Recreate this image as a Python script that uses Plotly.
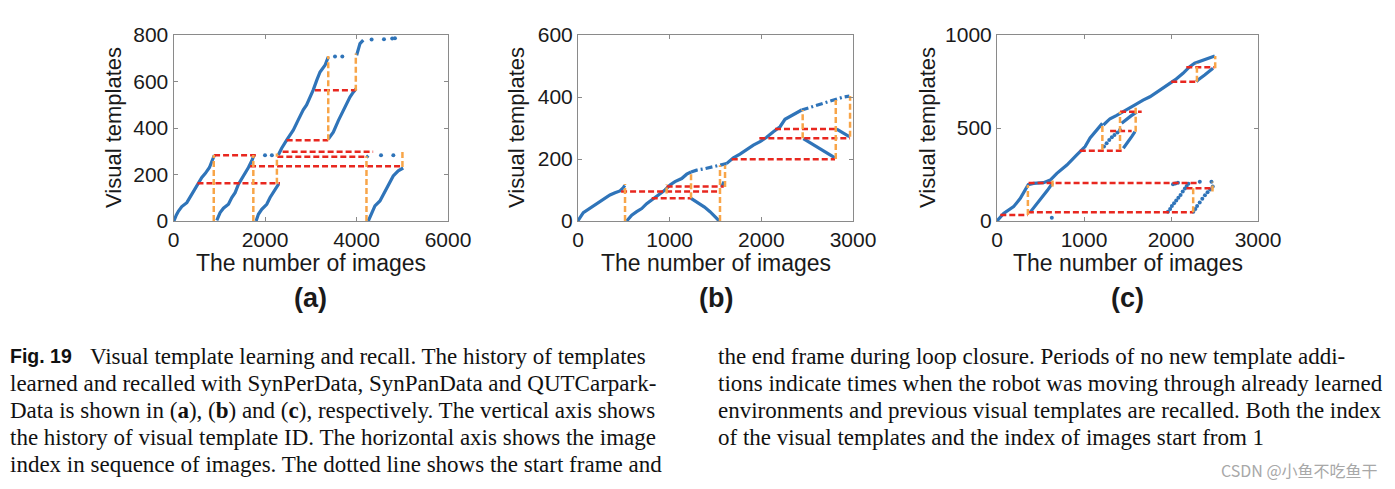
import plotly.graph_objects as go

# ---------------- panel (a) SynPerData ----------------
a_blue_x = [0, 15, 60, 109, 182, 291, 379, 451, 546, 619, 692, 786, 837, 895, None,
            946, 1019, 1092, 1201, 1274, 1347, 1420, 1492, 1565, 1638, 1711, 1760, None,
            1805, 1856, 1929, 2038, 2111, 2184, 2257, 2300, None,
            2291, 2364, 2473, 2618, 2727, 2836, 2909, 2982, 3055, 3130, 3203, 3312, 3384, None,
            3384, 3493, 3603, 3712, 3784, 3857, 3930, 3990, None,
            4003, 4039, 4076, 4148, None,
            4221, 4258, None,
            4258, 4330, 4403, 4512, 4585, 4658, 4730, 4803, 4912, 5021]
a_blue_y = [0, 3, 25, 43, 62, 79, 108, 132, 158, 187, 204, 230, 256, 283, None,
            3, 36, 55, 72, 101, 122, 158, 180, 202, 230, 259, 283, None,
            0, 29, 50, 72, 101, 122, 147, 160, None,
            284, 313, 348, 391, 435, 478, 499, 528, 564, 605, 641, 670, 706, None,
            353, 382, 432, 475, 497, 533, 554, 569, None,
            713, 742, 763, 778, None,
            274, 281, None,
            0, 36, 65, 86, 115, 144, 166, 194, 216, 228]
a_dot_x = [2000, 2150, 3530, 3690, 4330, 4600, 4780, 4840, 4536, 4805]
a_dot_y = [283, 283, 707, 707, 781, 782, 785, 786, 283, 283]
a_red_y = [283, 162, 235, 276, 298, 347, 562]
a_red_x0 = [887, 524, 1673, 2269, 2385, 2473, 3091]
a_red_x1 = [1800, 2327, 5018, 4218, 4364, 3382, 3978]
a_org_x = [880, 1745, 2260, 3382, 3985, 4218, 5004]
a_org_y0 = [0, 0, 160, 347, 560, 0, 232]
a_org_y1 = [284, 284, 290, 710, 720, 278, 302]

# ---------------- panel (b) SynPanData ----------------
b_blue_x = [0, 4, 58, 113, 167, 222, 295, 349, 404, 458, 495, 510, None,
            531, 586, 640, 695, 749, 804, 877, 949, 1004, 1058, 1131, 1186, 1233, None,
            1233, 1300, 1380, 1440, 1495, 1541, None,
            1567, 1593, None,
            1620, 1640, 1695, 1767, 1840, 1913, 1986, 2058, 2131, 2204, 2258, 2331, 2440, None,
            2458, 2550, 2650, 2740, 2804, None,
            2822, 2890, 2960]
b_blue_y = [0, 3, 27, 38, 46, 59, 73, 84, 91, 97, 108, 115, None,
            0, 19, 30, 40, 56, 67, 84, 100, 116, 127, 137, 151, 158, None,
            73, 60, 45, 30, 14, 0, None,
            110, 127, None,
            185, 191, 204, 216, 231, 245, 256, 270, 288, 304, 328, 339, 358, None,
            266, 250, 232, 215, 204, None,
            296, 285, 272]
b_dash_x = [1233, 1295, 1386, 1495, 1560, 1620, None, 2440, 2531, 2640, 2731, 2822, 2895, 2960]
b_dash_y = [158, 164, 169, 177, 180, 185, None, 358, 366, 377, 384, 392, 400, 403]
b_red_y = [297, 267, 199, 111, 95, 73]
b_red_x0 = [2149, 1978, 1677, 967, 470, 804]
b_red_x1 = [2822, 2968, 2804, 1590, 1549, 1233]
b_org_x = [513, 967, 1233, 1549, 1604, 2451, 2812, 2968]
b_org_y0 = [0, 89, 73, 0, 110, 267, 200, 272]
b_org_y1 = [119, 119, 158, 180, 180, 358, 390, 403]

# ---------------- panel (c) QUTCarparkData ----------------
c_blue_x = [0, 76, 191, 268, 359, 420, 535, 612, 688, 803, 917, 1013, 1070, 1130, 1211, None,
            1223, 1299, 1376, 1414, 1500, 1586, 1679, 1758, 1830, 1908, 1988, 2050, 2138, 2215,
            2272, 2368, 2483, 2503, None,
            378, 430, 480, 530, 580, 640, None,
            1433, 1480, 1540, 1605, None,
            1452, 1500, 1550, 1586, None,
            2291, 2310, 2387, 2483]
c_blue_y = [0, 41, 77, 122, 195, 202, 206, 220, 256, 301, 355, 400, 446, 480, 525, None,
            516, 550, 568, 579, 600, 624, 650, 668, 690, 715, 743, 760, 794, 830,
            848, 866, 884, 887, None,
            45, 75, 105, 135, 165, 205, None,
            525, 545, 565, 585, None,
            391, 420, 455, 480, None,
            749, 758, 785, 821]
c_dot_x = [1230, 1260, 1290, 1320, 1350, 1385, 1414,
           1965, 1990, 2010, 2035, 2060, 2085, 2110, 2135, 2160, 2180, 2200, 2023, 2050, 2080,
           2257, 2280, 2300, 2330, 2360, 2390, 2420, 2450, 2480, 2331, 2465, 630]
c_dot_y = [400, 418, 436, 450, 462, 476, 489,
           50, 65, 80, 95, 110, 125, 140, 158, 175, 188, 200, 197, 201, 205,
           50, 65, 80, 100, 120, 138, 155, 170, 185, 211, 211, 18]
c_red_y = [32, 47, 204, 176, 378, 484, 588, 749, 826]
c_red_x0 = [38, 355, 363, 2178, 952, 1300, 1414, 2003, 2176]
c_red_x1 = [355, 2255, 2331, 2484, 1433, 1548, 1663, 2290, 2500]
c_org_x = [355, 638, 1211, 1414, 1594, 2255, 2477, 2298, 2508]
c_org_y0 = [32, 185, 382, 382, 480, 47, 158, 749, 821]
c_org_y1 = [194, 230, 525, 588, 615, 185, 211, 848, 887]

# axis ticks / ranges
a_xticks = [0, 2000, 4000, 6000]
a_yticks = [0, 200, 400, 600, 800]
b_xticks = [0, 1000, 2000, 3000]
b_yticks = [0, 200, 400, 600]
c_xticks = [0, 1000, 2000, 3000]
c_yticks = [0, 500, 1000]

BLUE = "#2f74b9"
RED = "#e8271f"
ORANGE = "#f8a548"
OFF = 8  # page body margin
W, H = 1395 - OFF, 489 - OFF


def segs_h(ys, x0s, x1s):
    xs, yy = [], []
    for y, a, b in zip(ys, x0s, x1s):
        xs += [a, b, None]
        yy += [y, y, None]
    return xs, yy


def segs_v(xs_, y0s, y1s):
    xs, yy = [], []
    for x, a, b in zip(xs_, y0s, y1s):
        xs += [x, x, None]
        yy += [a, b, None]
    return xs, yy


def px(x):
    return (x - OFF) / W


def py(y):
    return 1 - (y - OFF) / H


fig = go.Figure()


def add_panel(n, bx, by, dx, dy, rx, ry0, ry1, ox, oy0, oy1, ex=None, ey=None):
    xa, ya = ("x", "y") if n == 1 else ("x%d" % n, "y%d" % n)
    fig.add_trace(go.Scatter(x=bx, y=by, mode="lines", line=dict(color=BLUE, width=3.2),
                             xaxis=xa, yaxis=ya, showlegend=False))
    if ex is not None:
        fig.add_trace(go.Scatter(x=ex, y=ey, mode="lines",
                                 line=dict(color=BLUE, width=3.2, dash="7px,3px,2px,3px"),
                                 xaxis=xa, yaxis=ya, showlegend=False))
    if dx is not None:
        fig.add_trace(go.Scatter(x=dx, y=dy, mode="markers", marker=dict(color=BLUE, size=4),
                                 xaxis=xa, yaxis=ya, showlegend=False))
    hx, hy = segs_h(rx, ry0, ry1)
    fig.add_trace(go.Scatter(x=hx, y=hy, mode="lines", line=dict(color=RED, width=2.5, dash="6px,3px"),
                             xaxis=xa, yaxis=ya, showlegend=False))
    vx, vy = segs_v(ox, oy0, oy1)
    fig.add_trace(go.Scatter(x=vx, y=vy, mode="lines", line=dict(color=ORANGE, width=2.5, dash="6px,3px"),
                             xaxis=xa, yaxis=ya, showlegend=False))


add_panel(1, a_blue_x, a_blue_y, a_dot_x, a_dot_y, a_red_y, a_red_x0, a_red_x1, a_org_x, a_org_y0, a_org_y1)
add_panel(2, b_blue_x, b_blue_y, None, None, b_red_y, b_red_x0, b_red_x1, b_org_x, b_org_y0, b_org_y1,
          b_dash_x, b_dash_y)
add_panel(3, c_blue_x, c_blue_y, c_dot_x, c_dot_y, c_red_y, c_red_x0, c_red_x1, c_org_x, c_org_y0, c_org_y1)

# panel pixel boxes (left, right) in screen pixels
boxes = [(173.5, 448), (578, 853), (997, 1258)]
top_px, bot_px = 35, 221
ranges = [((0, 6000), (0, 800), a_xticks, a_yticks),
          ((0, 3000), (0, 600), b_xticks, b_yticks),
          ((0, 3000), (0, 1000), c_xticks, c_yticks)]

tickfont = dict(family="Liberation Sans, Arial", size=21, color="#1a1a1a")
axis_common = dict(showgrid=False, zeroline=False, showline=True, linecolor="#8a8a8a", linewidth=1,
                   mirror="allticks", ticks="inside", ticklen=4, tickcolor="#8a8a8a", tickfont=tickfont,
                   automargin=False)
layout = {}
for i, ((l, r), (xr, yr, xt, yt)) in enumerate(zip(boxes, ranges), start=1):
    sx = "" if i == 1 else str(i)
    layout["xaxis" + sx] = dict(domain=[px(l), px(r)], range=list(xr), tickvals=xt,
                                anchor="y" + sx, **axis_common)
    layout["yaxis" + sx] = dict(domain=[py(bot_px), py(top_px)], range=list(yr), tickvals=yt,
                                anchor="x" + sx, **axis_common)

fig.update_layout(**layout)


def note(x, y, text, font, xanchor="center", angle=0):
    return dict(x=px(x), y=py(y), text=text, showarrow=False, font=font, textangle=angle,
                xanchor=xanchor, yanchor="middle", xref="paper", yref="paper")


ann = []
title_font = dict(family="Liberation Sans, Arial", size=23, color="#1a1a1a")
label_font = dict(family="Liberation Sans, Arial", size=27, color="#1a1a1a")
for (l, r), lab, ytx in zip(boxes, ["(a)", "(b)", "(c)"], [113, 516, 927]):
    cx = (l + r) / 2
    ann.append(note(cx, 263, "The number of images", title_font))
    ann.append(note(cx, 298, "<b>%s</b>" % lab, label_font))
    ann.append(note(ytx, 128, "Visual templates", dict(title_font, size=22), angle=-90))

cap_font = dict(family="Liberation Serif, Times New Roman", size=23, color="#111111")
left_lines = [
    "Visual template learning and recall. The history of templates",
    "learned and recalled with SynPerData, SynPanData and QUTCarpark-",
    "Data is shown in (<b>a</b>), (<b>b</b>) and (<b>c</b>), respectively. The vertical axis shows",
    "the history of visual template ID. The horizontal axis shows the image",
    "index in sequence of images. The dotted line shows the start frame and",
]
right_lines = [
    "the end frame during loop closure. Periods of no new template addi-",
    "tions indicate times when the robot was moving through already learned",
    "environments and previous visual templates are recalled. Both the index",
    "of the visual templates and the index of images start from 1",
]
line_y = [356, 383, 410, 437, 464]
ann.append(note(8, line_y[0], "<b>Fig. 19</b>",
                dict(family="Liberation Sans, Arial", size=19.5, color="#111111"), xanchor="left"))
for i, t in enumerate(left_lines):
    ann.append(note(88 if i == 0 else 8, line_y[i], t, cap_font, xanchor="left"))
for i, t in enumerate(right_lines):
    ann.append(note(716, line_y[i], t, cap_font, xanchor="left"))
ann.append(note(1380, 470, "CSDN @小鱼不吃鱼干",
                dict(family="Noto Sans CJK SC", size=16, color="#a8a8a8"), xanchor="right"))

fig.update_layout(width=W, height=H, margin=dict(l=0, r=0, t=0, b=0), autosize=False,
                  paper_bgcolor="white", plot_bgcolor="white", annotations=ann)

fig.write_html("out.html")
